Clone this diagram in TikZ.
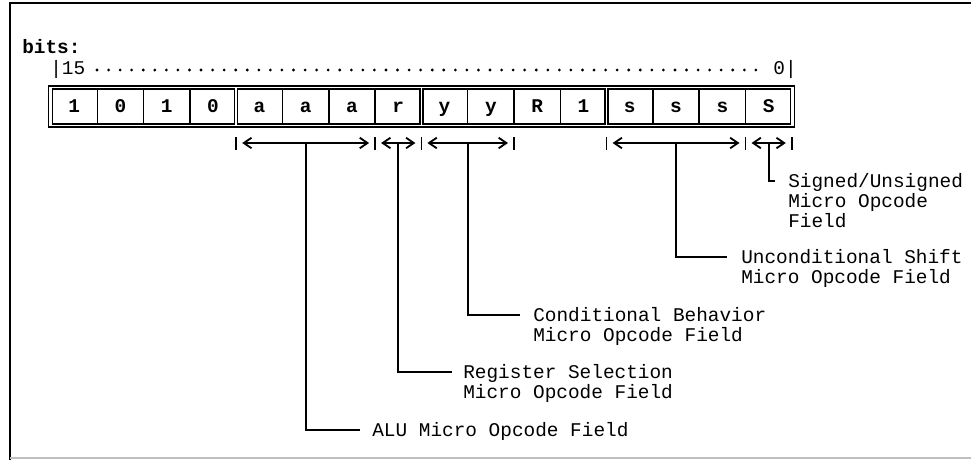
\documentclass[tikz,border=0pt]{standalone}
\usepackage{fontspec}
\setmainfont{Liberation Mono}
\usetikzlibrary{arrows.meta}
\begin{document}
\begin{tikzpicture}[x=0.025cm, y=-0.025cm, >={Straight Barb[length=5.5pt,width=7.5pt,line width=1.3pt]},
  every node/.style={inner sep=0pt, font=\fontsize{13.8}{14.2}\selectfont},
  cell/.style={anchor=base, font=\fontsize{13.8}{14.2}\selectfont\bfseries},
  lbl/.style={anchor=base west, align=left},
  brk/.style={<->, line width=1.4pt},
  tick/.style={line width=1.1pt},
  lead/.style={line width=1.4pt},
  dotline/.style={line width=2.2pt, line cap=round, dash pattern=on 0pt off 8.22pt}]
\useasboundingbox (0,0) rectangle (971,460);

% page frame
\draw[line width=2.1pt] (971,3) -- (10,3) -- (10,460);
\draw[gray!50, line width=1pt] (10,458) -- (971,458);

% bit numbering
\node[anchor=base west, font=\fontsize{13.8}{14.2}\selectfont\bfseries] (bits) at (22,53) {bits:};
\node[anchor=base west] (b15) at (50,74) {|15};
\node[anchor=base east] (b0) at (797,74) {0|};
\draw[dotline] (97,70) -- (762,70);

% register
\draw[line width=1.2pt] (48.5,86) rectangle (794.5,127);
\foreach \g in {0,...,3}
  \draw[line width=1.1pt] (51+185.2*\g+1.5,89) rectangle (51+185.2*\g+185.2-1.5,124);
\foreach \i in {1,2,3,5,6,7,9,10,11,13,14,15}
  \draw[line width=1.1pt] (51+46.3*\i,89) -- (51+46.3*\i,124);
\foreach \b [count=\i from 0] in {1,0,1,0,a,a,a,r,y,y,R,1,s,s,s,S}
  \node[cell] (c\i) at (51+46.3*\i+23.15,112) {\b};

% field brackets
\foreach \i in {4,7,8,10,12,15,16}
  \draw[tick] (51+46.3*\i,137) -- (51+46.3*\i,150);
\foreach \a/\b/\n in {4/7/alu, 7/8/reg, 8/10/cond, 12/15/shift, 15/16/sign} {
  \draw[brk] (51+46.3*\a+6,143) -- (51+46.3*\b-6,143);
  \coordinate (\n Mid) at (51+23.15*\a+23.15*\b,143);
}

% leader ends
\coordinate (aluEnd) at (360,430);
\coordinate (regEnd) at (452,372);
\coordinate (condEnd) at (520,315);
\coordinate (shiftEnd) at (727,257);
\coordinate (signEnd) at (775,181);

\draw[lead] (aluMid) |- (aluEnd);
\draw[lead] (regMid) |- (regEnd);
\draw[lead] (condMid) |- (condEnd);
\draw[lead] (shiftMid) |- (shiftEnd);
\draw[lead] (signMid) |- (signEnd);

% labels (base = last line)
\node[lbl] (alu) at (372,436) {ALU Micro Opcode Field};
\node[lbl] (reg) at (463,398) {Register Selection\\Micro Opcode Field};
\node[lbl] (cond) at (533,341) {Conditional Behavior\\Micro Opcode Field};
\node[lbl] (shift) at (741,283) {Unconditional Shift\\Micro Opcode Field};
\node[lbl] (sign) at (788,227) {Signed/Unsigned\\Micro Opcode\\Field};
\end{tikzpicture}
\end{document}
